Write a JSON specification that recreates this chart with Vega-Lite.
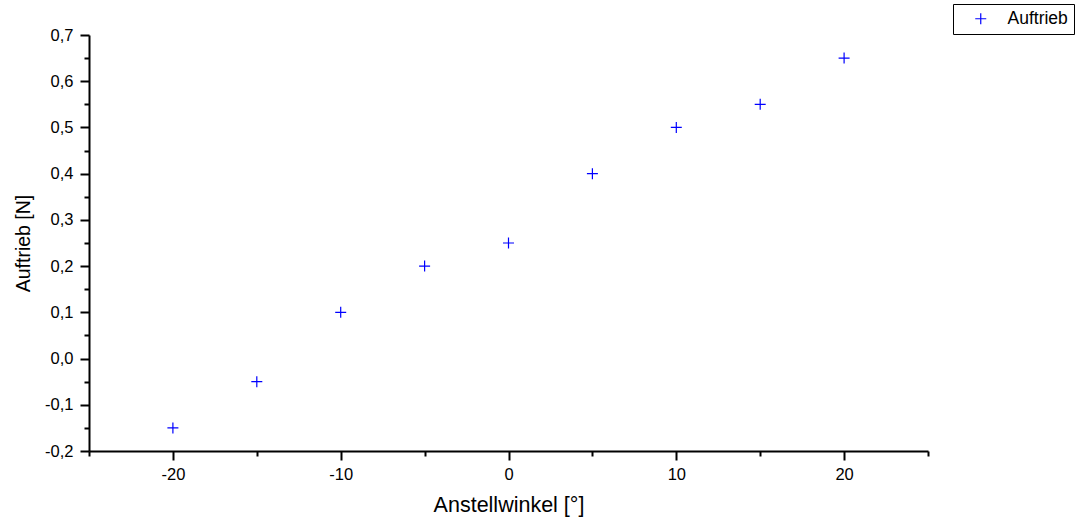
{
  "$schema": "https://vega.github.io/schema/vega-lite/v6.json",
  "autosize": "none",
  "width": 839,
  "height": 416,
  "padding": {"left": 89, "top": 35, "right": 160, "bottom": 69},
  "background": "white",
  "config": {
    "view": {"stroke": null},
    "font": "Liberation Sans",
    "axis": {"grid": false}
  },
  "data": {
    "values": [
      {"winkel": -20, "auftrieb": -0.15, "serie": "Auftrieb"},
      {"winkel": -15, "auftrieb": -0.05, "serie": "Auftrieb"},
      {"winkel": -10, "auftrieb": 0.1, "serie": "Auftrieb"},
      {"winkel": -5, "auftrieb": 0.2, "serie": "Auftrieb"},
      {"winkel": 0, "auftrieb": 0.25, "serie": "Auftrieb"},
      {"winkel": 5, "auftrieb": 0.4, "serie": "Auftrieb"},
      {"winkel": 10, "auftrieb": 0.5, "serie": "Auftrieb"},
      {"winkel": 15, "auftrieb": 0.55, "serie": "Auftrieb"},
      {"winkel": 20, "auftrieb": 0.65, "serie": "Auftrieb"}
    ]
  },
  "mark": {"type": "point", "shape": "M-1,0H1M0,-1V1", "filled": false, "size": 121, "strokeWidth": 1.2, "opacity": 1},
  "encoding": {
    "x": {
      "field": "winkel", "type": "quantitative",
      "scale": {"domain": [-25, 25], "nice": false, "zero": false},
      "axis": {
        "title": "Anstellwinkel [°]",
        "values": [-25, -20, -15, -10, -5, 0, 5, 10, 15, 20, 25],
        "labelExpr": "round(datum.value) % 10 === 0 ? replace(format(datum.value, 'd'), '\u2212', '-') : ''",
        "tickSize": {"condition": {"test": "round(datum.value) % 10 === 0", "value": 9}, "value": 5},
        "tickWidth": 2,
        "tickColor": "black",
        "domainColor": "black",
        "domainWidth": 2,
        "labelFontSize": 16.5,
        "labelColor": "black",
        "labelPadding": 6,
        "labelFlush": false,
        "labelOverlap": false,
        "titleFontSize": 21.5,
        "titleFontWeight": "normal",
        "titleColor": "black",
        "titlePadding": 12
      }
    },
    "y": {
      "field": "auftrieb", "type": "quantitative",
      "scale": {"domain": [-0.2, 0.7], "nice": false, "zero": false},
      "axis": {
        "title": "Auftrieb [N]",
        "values": [-0.2, -0.15, -0.1, -0.05, 0, 0.05, 0.1, 0.15, 0.2, 0.25, 0.3, 0.35, 0.4, 0.45, 0.5, 0.55, 0.6, 0.65, 0.7],
        "labelExpr": "round(datum.value * 20) % 2 === 0 ? replace(replace(format(datum.value, '.1f'), '.', ','), '\u2212', '-') : ''",
        "tickSize": {"condition": {"test": "round(datum.value * 20) % 2 === 0", "value": 9}, "value": 5},
        "tickWidth": 2,
        "tickColor": "black",
        "domainColor": "black",
        "domainWidth": 2,
        "labelFontSize": 16.5,
        "labelColor": "black",
        "labelPadding": 7,
        "labelFlush": false,
        "labelOverlap": false,
        "titleFontSize": 19.5,
        "titleFontWeight": "normal",
        "titleColor": "black",
        "titlePadding": 11
      }
    },
    "color": {
      "field": "serie", "type": "nominal",
      "scale": {"range": ["#0000ff"]},
      "legend": {
        "title": null,
        "orient": "none",
        "legendX": 864,
        "legendY": -31,
        "strokeColor": "black",
        "fillColor": "white",
        "padding": 6,
        "symbolOffset": 13,
        "symbolType": "M-1,0H1M0,-1V1",
        "symbolSize": 121,
        "symbolStrokeWidth": 1.2,
        "symbolFillColor": "transparent",
        "labelFontSize": 17.5,
        "labelColor": "black",
        "labelOffset": 18
      }
    }
  }
}
